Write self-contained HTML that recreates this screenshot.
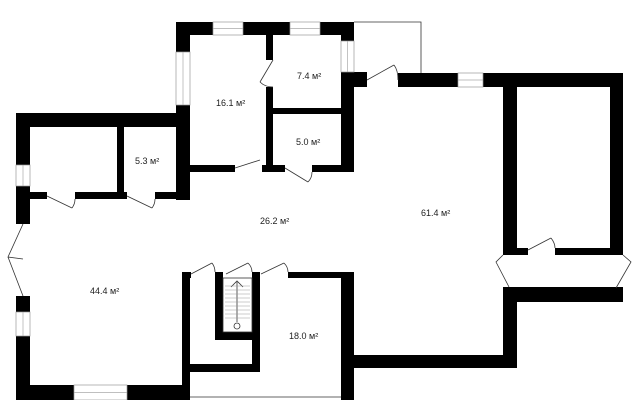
<!DOCTYPE html>
<html><head><style>html,body{margin:0;padding:0;background:#fff}svg{display:block}text{font-family:"Liberation Sans",sans-serif;font-size:9px;fill:#222}</style></head>
<body>
<svg width="640" height="400" viewBox="0 0 640 400" xmlns="http://www.w3.org/2000/svg">
<g fill="#000">
<rect x="176" y="22" width="178" height="13"/>
<rect x="176" y="22" width="14" height="178"/>
<rect x="341" y="22" width="13" height="150"/>
<rect x="341" y="72" width="26" height="15"/>
<rect x="266" y="35" width="7" height="25"/>
<rect x="266" y="87" width="7" height="85"/>
<rect x="273" y="108" width="68" height="6"/>
<rect x="190" y="165" width="45" height="7"/>
<rect x="262" y="165" width="23" height="7"/>
<rect x="312" y="165" width="42" height="7"/>
<rect x="398" y="73" width="225" height="14"/>
<rect x="503" y="73" width="14" height="182"/>
<rect x="610" y="73" width="13" height="182"/>
<rect x="517" y="248" width="11" height="7"/>
<rect x="555" y="248" width="55" height="7"/>
<rect x="503" y="287" width="120" height="15"/>
<rect x="503" y="287" width="14" height="81"/>
<rect x="353" y="355" width="163" height="13"/>
<rect x="341" y="272" width="13" height="128"/>
<rect x="288" y="272" width="53" height="6"/>
<rect x="16" y="113" width="174" height="14"/>
<rect x="16" y="113" width="14" height="111"/>
<rect x="117" y="127" width="7" height="65"/>
<rect x="30" y="192" width="17" height="7"/>
<rect x="75" y="192" width="52" height="7"/>
<rect x="155" y="192" width="35" height="7"/>
<rect x="16" y="296" width="14" height="104"/>
<rect x="16" y="385" width="174" height="15"/>
<rect x="182" y="272" width="8" height="128"/>
<rect x="182" y="272" width="9" height="6"/>
<rect x="215" y="272" width="8" height="68"/>
<rect x="252" y="272" width="8" height="100"/>
<rect x="215" y="332" width="45" height="8"/>
<rect x="190" y="364" width="70" height="8"/>
</g>
<g fill="#fff" stroke="#999" stroke-width="0.7">
<rect x="213" y="22" width="30" height="13"/>
<rect x="290" y="22" width="30" height="13"/>
<rect x="176" y="52" width="14" height="53"/>
<rect x="341" y="41" width="13" height="31"/>
<rect x="458" y="73" width="25" height="14"/>
<rect x="16" y="165" width="14" height="21"/>
<rect x="16" y="312" width="14" height="24"/>
<rect x="74" y="385" width="53" height="15"/>
</g>
<g stroke="#aaa" stroke-width="0.7">
<line x1="213" y1="28.5" x2="243" y2="28.5"/>
<line x1="290" y1="28.5" x2="320" y2="28.5"/>
<line x1="183" y1="52" x2="183" y2="105"/>
<line x1="347.5" y1="41" x2="347.5" y2="72"/>
<line x1="458" y1="80" x2="483" y2="80"/>
<line x1="23" y1="165" x2="23" y2="186"/>
<line x1="23" y1="312" x2="23" y2="336"/>
<line x1="74" y1="392.5" x2="127" y2="392.5"/>
</g>
<g fill="none" stroke="#333" stroke-width="0.8">
<polyline points="354,22 421,22 421,73"/>
<line x1="367" y1="80" x2="394" y2="65"/>
<path d="M394,65 Q398,70 398,80"/>
<line x1="273" y1="60" x2="260" y2="82"/>
<path d="M260,82 Q265,87 273,87"/>
<line x1="235" y1="168" x2="260" y2="160"/>
<line x1="285" y1="168" x2="308" y2="182"/>
<path d="M308,182 Q312,178 312,172"/>
<line x1="47" y1="196" x2="72" y2="208"/>
<path d="M72,208 Q75,204 75,199"/>
<line x1="127" y1="196" x2="152" y2="208"/>
<path d="M152,208 Q155,204 155,199"/>
<polyline points="23,224 8,257 23,259"/>
<polyline points="8,257 23,296"/>
<line x1="191" y1="274" x2="212" y2="263"/>
<path d="M212,263 Q215,267 215,272"/>
<line x1="226" y1="274" x2="248" y2="263"/>
<path d="M248,263 Q252,267 252,272"/>
<line x1="261" y1="274" x2="284" y2="263"/>
<path d="M284,263 Q288,267 288,272"/>
<line x1="528" y1="250" x2="551" y2="238"/>
<path d="M551,238 Q555,243 555,248"/>
<polyline points="503,255 496,262 509,287"/>
<polyline points="623,255 631,262 616,288"/>
<rect x="223" y="278" width="29" height="54"/>
<line x1="237" y1="282" x2="237" y2="322"/>
<polyline points="231,287 237,281 243,287"/>
<circle cx="237" cy="326" r="3"/>
<line x1="190" y1="397" x2="341" y2="397"/>
</g>
<g stroke="#999" stroke-width="0.6">
<line x1="225" y1="286" x2="250" y2="286"/><line x1="225" y1="290" x2="250" y2="290"/><line x1="225" y1="294" x2="250" y2="294"/><line x1="225" y1="298" x2="250" y2="298"/><line x1="225" y1="302" x2="250" y2="302"/><line x1="225" y1="306" x2="250" y2="306"/><line x1="225" y1="310" x2="250" y2="310"/><line x1="225" y1="314" x2="250" y2="314"/><line x1="225" y1="318" x2="250" y2="318"/>
</g>
<text x="216" y="106">16.1 м²</text>
<text x="297" y="79">7.4 м²</text>
<text x="296" y="145">5.0 м²</text>
<text x="135" y="164">5.3 м²</text>
<text x="260" y="224">26.2 м²</text>
<text x="421" y="216">61.4 м²</text>
<text x="90" y="294">44.4 м²</text>
<text x="289" y="339">18.0 м²</text>
</svg>
</body></html>
